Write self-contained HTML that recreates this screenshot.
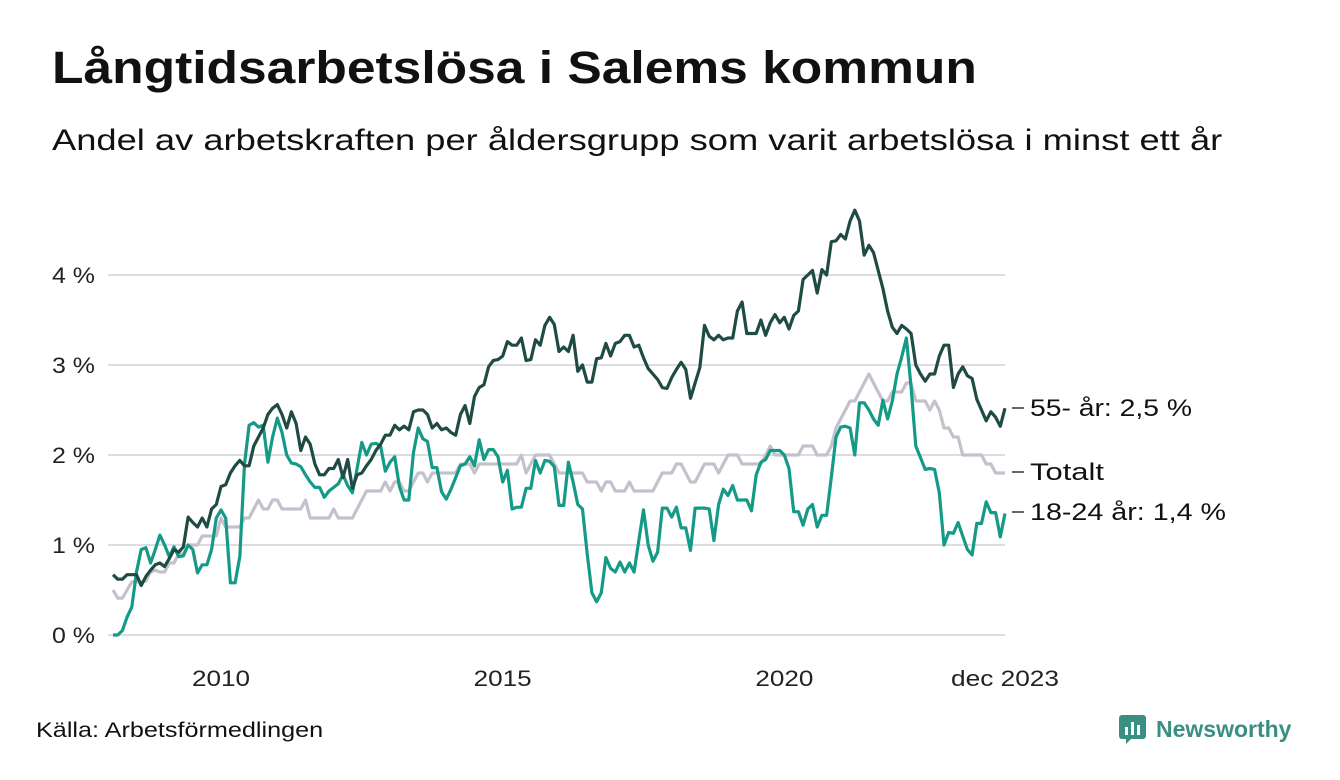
<!DOCTYPE html>
<html><head><meta charset="utf-8">
<style>
body{margin:0;background:#fff;width:1340px;height:780px;overflow:hidden;font-family:"Liberation Sans","DejaVu Sans",sans-serif;color:#111}
#title{position:absolute;left:52px;top:42px;font-size:45px;font-weight:bold;margin:0;transform:scaleX(1.145);transform-origin:left top;white-space:nowrap}
#sub{position:absolute;left:52px;top:124px;font-size:30px;margin:0;transform:scaleX(1.21);transform-origin:left top;white-space:nowrap}
#src{position:absolute;left:36px;top:719px;font-size:21px;transform:scaleX(1.2);transform-origin:left top;white-space:nowrap}
#logo{position:absolute;left:1118px;top:714px;display:flex;align-items:center;gap:8px;color:#3a8f83;font-weight:bold;font-size:23px}
svg{position:absolute;left:0;top:0}
</style></head><body>
<h1 id="title">Långtidsarbetslösa i Salems kommun</h1>
<p id="sub">Andel av arbetskraften per åldersgrupp som varit arbetslösa i minst ett år</p>
<div id="src">Källa: Arbetsförmedlingen</div>
<div id="logo">
<svg width="30" height="30" viewBox="0 0 30 30" style="position:static"><rect x="1" y="1" width="27" height="24" rx="3" fill="#3a8f83"/><path d="M8 25 L8 30 L13 25Z" fill="#3a8f83"/><rect x="7" y="13" width="3" height="8" fill="#fff"/><rect x="13" y="8" width="3" height="13" fill="#fff"/><rect x="19" y="11" width="3" height="10" fill="#fff"/></svg>
<span>Newsworthy</span></div>
<svg id="chart" width="1340" height="780"></svg>
<script>
const yTicks=[0,1,2,3,4];
const xTickYears=[2010,2015,2020];
const xTickLabels=["2010","2015","2020"];
const seriesNames=["55- år: 2,5 %","Totalt","18-24 år: 1,4 %"];
const dark=[.67,.62,.62,.67,.67,.67,.55,.65,.72,.78,.80,.76,.85,.95,.92,.98,1.31,1.25,1.20,1.30,1.20,1.40,1.45,1.65,1.67,1.80,1.88,1.94,1.88,1.88,2.10,2.20,2.30,2.45,2.52,2.56,2.45,2.30,2.48,2.35,2.05,2.20,2.12,1.90,1.78,1.78,1.85,1.85,1.95,1.75,1.95,1.63,1.78,1.80,1.88,1.95,2.05,2.12,2.22,2.22,2.33,2.28,2.32,2.28,2.48,2.50,2.50,2.45,2.30,2.35,2.28,2.30,2.25,2.22,2.45,2.55,2.35,2.65,2.75,2.78,2.98,3.05,3.06,3.10,3.26,3.22,3.22,3.30,3.05,3.06,3.28,3.22,3.44,3.53,3.45,3.15,3.20,3.15,3.33,2.93,3.00,2.81,2.81,3.07,3.08,3.24,3.10,3.24,3.26,3.33,3.33,3.20,3.22,3.08,2.96,2.90,2.84,2.75,2.74,2.86,2.95,3.03,2.95,2.63,2.80,2.97,3.44,3.32,3.28,3.33,3.28,3.30,3.30,3.60,3.70,3.35,3.35,3.35,3.50,3.33,3.47,3.56,3.47,3.53,3.40,3.55,3.60,3.95,4.00,4.05,3.80,4.06,4.00,4.37,4.38,4.45,4.40,4.60,4.72,4.60,4.22,4.33,4.25,4.05,3.85,3.60,3.42,3.35,3.44,3.40,3.35,3.00,2.90,2.82,2.90,2.90,3.10,3.22,3.22,2.75,2.90,2.98,2.88,2.85,2.62,2.50,2.38,2.48,2.42,2.32,2.52];
const teal=[0,0,.05,.2,.31,.7,.95,.97,.8,.95,1.11,1.0,.87,.98,.87,.88,1.0,.95,.69,.78,.78,.95,1.30,1.39,1.30,.58,.58,.87,1.9,2.33,2.36,2.31,2.33,1.92,2.2,2.41,2.25,2.0,1.91,1.9,1.87,1.78,1.70,1.64,1.64,1.53,1.60,1.64,1.68,1.78,1.66,1.58,1.85,2.14,2.0,2.12,2.13,2.1,1.82,1.92,1.98,1.65,1.50,1.50,2.03,2.30,2.18,2.15,1.86,1.86,1.59,1.51,1.62,1.75,1.88,1.90,1.98,1.88,2.17,1.95,2.06,2.06,1.98,1.70,1.83,1.40,1.42,1.42,1.63,1.63,1.94,1.80,1.94,1.93,1.87,1.44,1.44,1.92,1.70,1.45,1.40,.90,.47,.37,.47,.86,.74,.70,.81,.70,.80,.70,1.05,1.39,1.00,.82,.92,1.41,1.41,1.31,1.42,1.19,1.19,.94,1.41,1.41,1.41,1.40,1.05,1.45,1.62,1.55,1.66,1.50,1.50,1.50,1.38,1.78,1.92,1.95,2.05,2.05,2.05,2.0,1.85,1.37,1.37,1.22,1.40,1.45,1.20,1.33,1.33,1.75,2.20,2.31,2.32,2.30,2.00,2.58,2.58,2.50,2.40,2.33,2.61,2.40,2.60,2.90,3.09,3.30,2.75,2.10,1.97,1.84,1.85,1.84,1.58,1.00,1.14,1.13,1.25,1.10,.95,.89,1.24,1.24,1.48,1.36,1.36,1.09,1.35];
const total=[.5,.41,.41,.5,.59,.59,.59,.6,.7,.72,.7,.7,.8,.8,.9,.9,1.0,1.0,1.0,1.1,1.1,1.1,1.1,1.3,1.2,1.2,1.2,1.2,1.3,1.3,1.4,1.5,1.4,1.4,1.5,1.5,1.4,1.4,1.4,1.4,1.4,1.5,1.3,1.3,1.3,1.3,1.3,1.4,1.3,1.3,1.3,1.3,1.4,1.5,1.6,1.6,1.6,1.6,1.7,1.6,1.7,1.7,1.6,1.6,1.7,1.8,1.8,1.7,1.8,1.8,1.8,1.8,1.8,1.8,1.9,1.9,1.9,1.8,1.9,1.9,1.9,1.9,1.9,1.9,1.9,1.9,1.9,2.0,1.8,1.9,2.0,2.0,2.0,2.0,1.9,1.8,1.8,1.8,1.8,1.8,1.8,1.7,1.7,1.7,1.6,1.7,1.7,1.6,1.6,1.6,1.7,1.6,1.6,1.6,1.6,1.6,1.7,1.8,1.8,1.8,1.9,1.9,1.8,1.7,1.7,1.8,1.9,1.9,1.9,1.8,1.9,2.0,2.0,2.0,1.9,1.9,1.9,1.9,1.9,2.0,2.1,2.0,2.0,2.0,2.0,2.0,2.0,2.1,2.1,2.1,2.0,2.0,2.0,2.1,2.3,2.4,2.5,2.6,2.6,2.7,2.8,2.9,2.8,2.7,2.6,2.6,2.7,2.7,2.7,2.8,2.8,2.6,2.6,2.6,2.5,2.6,2.5,2.3,2.3,2.2,2.2,2.0,2.0,2.0,2.0,2.0,1.9,1.9,1.8,1.8,1.8];

const NS="http://www.w3.org/2000/svg";
const svg=document.getElementById('chart');
const X0=113,X1=1005,Y0=635,PXPER=90;
const n=dark.length;
function xScale(i){return X0+i*(X1-X0)/(n-1);}
function yScale(v){return Y0-v*PXPER;}
function mk(tag,attrs){const e=document.createElementNS(NS,tag);for(const k in attrs)e.setAttribute(k,attrs[k]);svg.appendChild(e);return e;}
const FONT='Liberation Sans, sans-serif';

yTicks.forEach(t=>{
  const g=mk('line',{x1:108,x2:1005,y1:yScale(t),y2:yScale(t),stroke:'#dcdce1','stroke-width':2});
  
  
  const l=mk('text',{x:95,y:yScale(t)+8,'text-anchor':'end','font-size':22,fill:'#222','font-family':FONT,textLength:43,lengthAdjust:'spacingAndGlyphs'});
  l.textContent=t+' %';
  
  
});
xTickYears.forEach((yr,k)=>{
  const i=(yr-2008)*12-1;
  const l=mk('text',{x:xScale(i),y:686,'text-anchor':'middle','font-size':22,fill:'#222','font-family':FONT,textLength:58,lengthAdjust:'spacingAndGlyphs'});
  l.textContent=xTickLabels[k];
  
  
});
const lastLbl=mk('text',{x:xScale(n-1),y:686,'text-anchor':'middle','font-size':22,fill:'#222','font-family':FONT,textLength:108,lengthAdjust:'spacingAndGlyphs'});
lastLbl.textContent='dec 2023';



function line(data,color,name){
  const p=mk('polyline',{points:data.map((v,i)=>xScale(i).toFixed(1)+','+yScale(v).toFixed(1)).join(' '),fill:'none',stroke:color,'stroke-width':3.2,'stroke-linejoin':'round'});
  
  
}
line(total,'#c4c1cd','series-totalt');
line(teal,'#149a86','series-18-24');
line(dark,'#1f4b44','series-55-plus');

const labelY=[408,472,512];
const labelW=[162,74,196];
labelY.forEach((y,k)=>{
  const t=mk('line',{x1:1012,x2:1024,y1:y,y2:y,stroke:'#333','stroke-width':1.5});
  
  
  const l=mk('text',{x:1030,y:y+8,'font-size':24,fill:'#111','font-family':FONT,textLength:labelW[k],lengthAdjust:'spacingAndGlyphs'});
  l.textContent=seriesNames[k];
  
  
});
</script>
</body></html>
